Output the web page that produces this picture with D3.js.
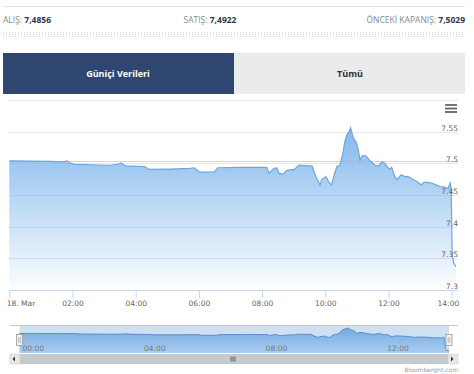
<!DOCTYPE html>
<html>
<head>
<meta charset="utf-8">
<script src="https://cdn.jsdelivr.net/npm/d3@7"></script>
<style>
  body { margin: 0; background: #fff; }
  svg { display: block; }
</style>
</head>
<body>
<div class="container"></div>
<script>
// USD/TRY intraday, 18 Mar
var times = ["00:00","00:39","01:17","01:44","01:49","01:55","02:03","02:33","03:11","03:26","03:32","03:40","04:17","04:25","05:05","05:43","05:51","06:02","06:29","06:36","07:18","08:09","08:13","08:21","08:28","08:32","08:40","08:47","09:01","09:10","09:35","09:42","09:50","09:53","10:01","10:07","10:12","10:17","10:22","10:28","10:34","10:37","10:41","10:45","10:48","10:51","10:54","10:58","11:02","11:06","11:10","11:17","11:21","11:25","11:31","11:36","11:42","11:47","11:53","11:59","12:03","12:06","12:12","12:16","12:20","12:24","12:31","12:37","12:43","12:48","12:56","13:02","13:07","13:15","13:23","13:30","13:38","13:45","13:53","13:57","13:59","14:01","14:04","14:08"];
var rates = [7.5040,7.5035,7.5030,7.5025,7.5040,7.5010,7.4985,7.4978,7.4970,7.4985,7.5005,7.4960,7.4950,7.4906,7.4910,7.4920,7.4930,7.4860,7.4860,7.4930,7.4937,7.4935,7.4840,7.4910,7.4930,7.4840,7.4830,7.4890,7.4905,7.4970,7.4955,7.4790,7.4660,7.4740,7.4790,7.4700,7.4660,7.4820,7.4950,7.4975,7.5180,7.5340,7.5450,7.5500,7.5560,7.5470,7.5390,7.5340,7.5240,7.5050,7.5120,7.5120,7.5080,7.5040,7.5000,7.4960,7.4960,7.5026,7.5000,7.4930,7.4910,7.4940,7.4790,7.4740,7.4780,7.4820,7.4790,7.4790,7.4765,7.4740,7.4700,7.4660,7.4700,7.4700,7.4685,7.4660,7.4630,7.4630,7.4600,7.4690,7.4600,7.3550,7.3420,7.3370];
var yTicks = [7.3, 7.35, 7.4, 7.45, 7.5, 7.55, 7.6];
var quoteLabels = ["ALIŞ: ", "SATIŞ: ", "ÖNCEKİ KAPANIŞ: "];
var quoteValues = ["7,4856", "7,4922", "7,5029"];
var prevClose = 7.5029;
var tabs = ["Güniçi Verileri", "Tümü"];

var width = 474, height = 374;
var parse = function(s) {
    var p = s.split(":");
    return new Date(2021, 2, 18, +p[0], +p[1]);
};
var data = times.map(function(t, i) { return {date: parse(t), v: rates[i]}; });

var svg = d3.select(".container").append("svg")
    .attr("width", width).attr("height", height);

var defs = svg.append("defs");

// top rule + quote row
svg.append("line").attr("x1", 3).attr("x2", 465).attr("y1", 6.5).attr("y2", 6.5)
    .attr("stroke", "#e4e4e4");

var anchors = [["start", 3], ["middle", 210], ["end", 465]];
quoteLabels.forEach(function(l, i) {
    var t = svg.append("text")
        .attr("x", anchors[i][1]).attr("y", 23)
        .attr("text-anchor", anchors[i][0])
        .style("font-family", "'Open Sans', sans-serif")
        .style("font-size", "8.5px");
    t.append("tspan").attr("fill", "#8a8a8a").text(l);
    t.append("tspan").attr("fill", "#2b3650").style("font-weight", "bold").text(quoteValues[i]);
});

// dotted strip
var pat = defs.append("pattern").attr("id", "dots")
    .attr("width", 3).attr("height", 2).attr("patternUnits", "userSpaceOnUse");
pat.append("rect").attr("width", 1).attr("height", 1).attr("fill", "#d4d4d4");
svg.append("rect").attr("x", 3).attr("y", 31).attr("width", 462).attr("height", 6)
    .attr("fill", "url(#dots)");

// tabs
svg.append("rect").attr("x", 3).attr("y", 53).attr("width", 231).attr("height", 41).attr("fill", "#2f4670");
svg.append("rect").attr("x", 234).attr("y", 53).attr("width", 231).attr("height", 41).attr("fill", "#ebebeb");
svg.append("text").attr("x", 118).attr("y", 77).attr("text-anchor", "middle")
    .attr("fill", "#fff").style("font-family", "'Open Sans', sans-serif")
    .style("font-size", "9px").style("font-weight", "bold").text(tabs[0]);
svg.append("text").attr("x", 350).attr("y", 77).attr("text-anchor", "middle")
    .attr("fill", "#333").style("font-family", "'Open Sans', sans-serif")
    .style("font-size", "9px").style("font-weight", "bold").text(tabs[1]);

// main chart
var x = d3.scaleTime()
    .domain([parse("00:00"), parse("14:12")])
    .range([9.3, 458]);
var y = d3.scaleLinear().domain([7.3, 7.6]).range([290, 100]);

var grad = defs.append("linearGradient").attr("id", "fillMain")
    .attr("gradientUnits", "userSpaceOnUse")
    .attr("x1", 0).attr("x2", 0).attr("y1", y(d3.max(rates))).attr("y2", 290);
grad.append("stop").attr("offset", 0).attr("stop-color", "#7cb5ec").attr("stop-opacity", 0.95);
grad.append("stop").attr("offset", 1).attr("stop-color", "#7cb5ec").attr("stop-opacity", 0.02);

svg.append("g").selectAll("line").data(yTicks.slice(1)).enter().append("line")
    .attr("x1", 9.3).attr("x2", 458)
    .attr("y1", function(d) { return Math.round(y(d)) + 0.5; })
    .attr("y2", function(d) { return Math.round(y(d)) + 0.5; })
    .attr("stroke", "#e6e6e6");

svg.append("line").attr("x1", 9.3).attr("x2", 458)
    .attr("y1", y(prevClose)).attr("y2", y(prevClose))
    .attr("stroke", "#f2cfb4").attr("stroke-width", 1);

var area = d3.area().x(function(d) { return x(d.date); })
    .y0(290).y1(function(d) { return y(d.v); });
var line = d3.line().x(function(d) { return x(d.date); })
    .y(function(d) { return y(d.v); });

svg.append("path").datum(data).attr("d", area).attr("fill", "url(#fillMain)");
svg.append("path").datum(data).attr("d", line).attr("fill", "none")
    .attr("stroke", "#6fa5dc").attr("stroke-width", 1.2);

// y labels
var fmt = d3.format(".3~f");
svg.append("g").selectAll("text").data(yTicks.slice(0, -1)).enter().append("text")
    .attr("x", 458).attr("y", function(d) { return y(d) - 1; })
    .attr("text-anchor", "end")
    .attr("fill", "#666")
    .style("font-family", "'DejaVu Sans', sans-serif")
    .style("font-size", "7.5px")
    .text(fmt);

// x axis
var xAxis = d3.axisBottom(x)
    .ticks(d3.timeHour.every(2))
    .tickSize(8)
    .tickFormat(function(d) {
        return d.getHours() === 0 ? d3.timeFormat("%d. %b")(d) : d3.timeFormat("%H:%M")(d);
    });
var gx = svg.append("g").attr("transform", "translate(0,290)").call(xAxis);
gx.select(".domain").attr("stroke", "#ccd6eb").attr("d", "M9.3,0.5H458");
gx.selectAll(".tick line").attr("stroke", "#ccd6eb");
gx.selectAll(".tick text")
    .attr("y", 11).attr("dy", "0.71em")
    .attr("fill", "#666")
    .style("font-family", "'DejaVu Sans', sans-serif")
    .style("font-size", "7.5px");
var tt = gx.selectAll(".tick text").nodes();
d3.select(tt[0]).attr("text-anchor", "start").attr("x", -3);
d3.select(tt[tt.length - 1]).attr("text-anchor", "end").attr("x", 7);

// export menu icon
[105, 108.5, 112].forEach(function(yy) {
    svg.append("line").attr("x1", 445).attr("x2", 457).attr("y1", yy).attr("y2", yy)
        .attr("stroke", "#666").attr("stroke-width", 1.8);
});

// navigator
var nx = d3.scaleTime().domain(d3.extent(data, function(d) { return d.date; })).range([19.5, 449]);
var ny = d3.scaleLinear().domain(d3.extent(rates)).range([351, 328]);

var ngrad = defs.append("linearGradient").attr("id", "fillNav")
    .attr("gradientUnits", "userSpaceOnUse")
    .attr("x1", 0).attr("x2", 0).attr("y1", 328).attr("y2", 353);
ngrad.append("stop").attr("offset", 0).attr("stop-color", "#6ea4dc").attr("stop-opacity", 0.95);
ngrad.append("stop").attr("offset", 1).attr("stop-color", "#7cb5ec").attr("stop-opacity", 0.45);

svg.append("rect").attr("x", 19.5).attr("y", 325).attr("width", 449 - 19.5).attr("height", 28)
    .attr("fill", "#cfe0f3");

var narea = d3.area().x(function(d) { return nx(d.date); })
    .y0(353).y1(function(d) { return ny(d.v); });
var nline = d3.line().x(function(d) { return nx(d.date); })
    .y(function(d) { return ny(d.v); });
svg.append("path").datum(data).attr("d", narea).attr("fill", "url(#fillNav)");
svg.append("path").datum(data).attr("d", nline).attr("fill", "none")
    .attr("stroke", "#5a8fce").attr("stroke-width", 1);

svg.append("line").attr("x1", 10).attr("x2", 458).attr("y1", 325.5).attr("y2", 325.5)
    .attr("stroke", "#c8c8c8");

var nAxis = svg.append("g");
nAxis.selectAll("text").data(nx.ticks(d3.timeHour.every(4))).enter().append("text")
    .attr("x", function(d) { return nx(d) + 3; })
    .attr("y", 351)
    .attr("fill", "#777")
    .style("font-family", "'DejaVu Sans', sans-serif")
    .style("font-size", "7.5px")
    .text(d3.timeFormat("%H:%M"));

// handles
[19.5, 449].forEach(function(hx) {
    svg.append("rect").attr("x", hx - 3).attr("y", 334.5).attr("width", 6).attr("height", 11)
        .attr("fill", "#f2f2f2").attr("stroke", "#999").attr("stroke-width", 0.8);
    svg.append("line").attr("x1", hx - 0.8).attr("x2", hx - 0.8).attr("y1", 337).attr("y2", 343)
        .attr("stroke", "#999").attr("stroke-width", 0.6);
    svg.append("line").attr("x1", hx + 0.8).attr("x2", hx + 0.8).attr("y1", 337).attr("y2", 343)
        .attr("stroke", "#999").attr("stroke-width", 0.6);
});

// scrollbar
svg.append("rect").attr("x", 10).attr("y", 354).attr("width", 448).attr("height", 10).attr("fill", "#f2f2f2");
svg.append("rect").attr("x", 18).attr("y", 354).attr("width", 430).attr("height", 10).attr("fill", "#c6c9ce");
[[10, "M15,356.5L12.5,359L15,361.5Z"], [448, "M451,356.5L453.5,359L451,361.5Z"]].forEach(function(b) {
    svg.append("rect").attr("x", b[0]).attr("y", 354).attr("width", 10).attr("height", 10)
        .attr("fill", "#e6e6e6").attr("stroke", "#cccccc").attr("stroke-width", 0.5);
    svg.append("path").attr("d", b[1]).attr("fill", "#333");
});
[231, 233, 235].forEach(function(gxp) {
    svg.append("line").attr("x1", gxp).attr("x2", gxp).attr("y1", 356.5).attr("y2", 361.5)
        .attr("stroke", "#333").attr("stroke-width", 0.7);
});

svg.append("text").attr("x", 458).attr("y", 372).attr("text-anchor", "end")
    .attr("fill", "#999").style("font-family", "'DejaVu Sans', sans-serif")
    .style("font-size", "6px").text("Bloomberght.com");
</script>
</body>
</html>
